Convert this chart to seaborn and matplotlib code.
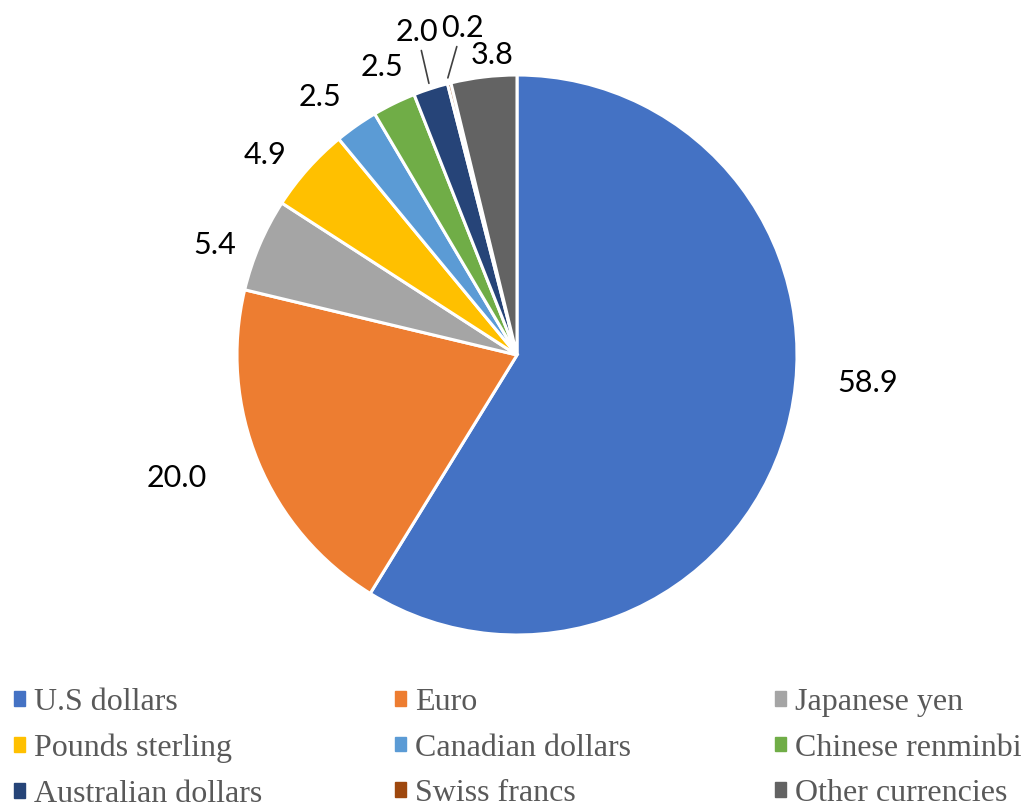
import matplotlib
matplotlib.use('Agg')
import matplotlib.pyplot as plt
import matplotlib.patches as mpatches
import seaborn as sns
import numpy as np

# data
currencies = ['U.S dollars', 'Euro', 'Japanese yen', 'Pounds sterling', 'Canadian dollars',
              'Chinese renminbi', 'Australian dollars', 'Swiss francs', 'Other currencies']
shares = [58.9, 20.0, 5.4, 4.9, 2.5, 2.5, 2.0, 0.2, 3.8]
colors = ['#4472C4', '#ED7D31', '#A5A5A5', '#FFC000', '#5B9BD5',
          '#70AD47', '#264478', '#9E480E', '#636363']

# label layout (data units, pie radius = 1)
label_pos = [(1.254, -0.10), (-1.214, -0.44), (-1.079, 0.393), (-0.90, 0.714), (-0.704, 0.921),
             (-0.482, 1.029), (-0.357, 1.154), (-0.196, 1.168), (-0.089, 1.071)]
leader = [False, False, False, False, False, False, True, True, False]

sns.set_theme(style='white')
plt.rcParams['font.family'] = ['Lato', 'DejaVu Sans']

W, H = 1021, 805
cx, cy, R = 517, 355, 280

fig = plt.figure(figsize=(W / 100, H / 100), dpi=100)
ax = fig.add_axes([0, 0, 1, 1])
wedges, _ = ax.pie(shares, colors=colors, startangle=90, counterclock=False, radius=1,
                   wedgeprops=dict(edgecolor='white', linewidth=2.2))
ax.set_aspect('auto')
ax.set_xlim(-cx / R, (W - cx) / R)
ax.set_ylim(-(H - cy) / R, cy / R)
ax.axis('off')

for w, val, pos, ld in zip(wedges, shares, label_pos, leader):
    if ld:
        mid = np.deg2rad((w.theta1 + w.theta2) / 2)
        ax.annotate(f'{val:.1f}', xy=(np.cos(mid) * 1.02, np.sin(mid) * 1.02), xytext=pos,
                    ha='center', va='center', fontsize=22, color='black',
                    arrowprops=dict(arrowstyle='-', color='#404040', lw=1.2, shrinkA=1, shrinkB=0))
    else:
        ax.text(pos[0], pos[1], f'{val:.1f}', ha='center', va='center', fontsize=22, color='black')

# legend: three columns, row-major order
col_x = [14, 395, 775]
for j in range(3):
    idx = [j, j + 3, j + 6]
    handles = [mpatches.Patch(color=colors[i], label=currencies[i]) for i in idx]
    fig.legend(handles=handles, loc='upper left', bbox_to_anchor=(col_x[j] / W, 1 - 688 / H),
               frameon=False, ncol=1, borderpad=0, borderaxespad=0,
               handlelength=0.33, handleheight=0.33, handletextpad=0.3, labelspacing=0.52,
               prop=dict(family='Liberation Serif', size=23), labelcolor='#595959')

fig.savefig('out.png', dpi=100)
